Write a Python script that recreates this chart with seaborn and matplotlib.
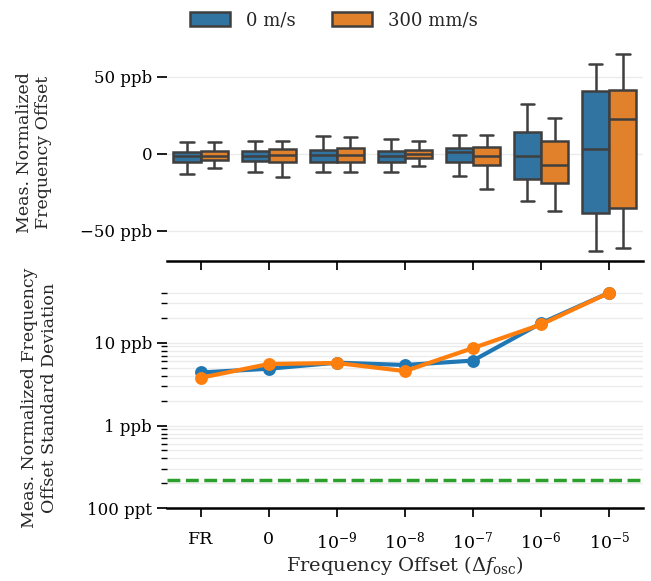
import pandas as pd
import matplotlib
matplotlib.use("Agg")
import matplotlib.pyplot as plt
import matplotlib.ticker as mticker
import seaborn as sns


# -----------------------------
# DATA
# -----------------------------
offsets = ["FR", "0", "1e-9", "1e-8", "1e-7", "1e-6", "1e-5"]
offset_labels = ["FR", "0", r"$10^{-9}$", r"$10^{-8}$", r"$10^{-7}$",
                 r"$10^{-6}$", r"$10^{-5}$"]
speeds = ["0 m/s", "300 mm/s"]

# five-number summaries per box, in ppb: min, q1, median, q3, max
box_0ms = [
    [-13.2, -4.9, -1.2, 1.6, 7.5],
    [-11.7, -4.5, -1.6, 1.8, 8.2],
    [-11.7, -5.0, -0.7, 2.8, 11.8],
    [-11.7, -5.0, -1.1, 2.1, 9.9],
    [-14.0, -4.9, 1.1, 3.9, 12.1],
    [-30.7, -16.2, -1.5, 14.4, 32.6],
    [-63.0, -38.0, 3.2, 41.2, 58.4],
]
box_300mms = [
    [-8.8, -4.2, -1.0, 2.0, 7.6],
    [-15.1, -5.3, -0.9, 3.0, 8.6],
    [-11.9, -5.4, -0.7, 3.9, 11.0],
    [-7.6, -2.8, 0.0, 2.3, 8.4],
    [-22.7, -7.1, -1.1, 4.3, 12.1],
    [-37.1, -18.6, -6.9, 8.2, 23.3],
    [-60.8, -35.0, 22.8, 41.6, 64.9],
]

# standard deviation, in ppb
std_0ms = [4.37, 4.85, 5.74, 5.38, 6.08, 17.2, 40.1]
std_300mms = [3.77, 5.53, 5.69, 4.54, 8.61, 16.6, 40.1]
noise_floor = 0.218  # ppb

rows = []
for speed, boxes in zip(speeds, [box_0ms, box_300mms]):
    for off, vals in zip(offsets, boxes):
        for v in vals:
            rows.append({"offset": off, "speed": speed, "value": v})
box_df = pd.DataFrame(rows)

std_df = pd.DataFrame({
    "offset": offsets * 2,
    "speed": [speeds[0]] * len(offsets) + [speeds[1]] * len(offsets),
    "std": std_0ms + std_300mms,
})


# -----------------------------
# STYLE
# -----------------------------
sns.set_theme(style="whitegrid", context="notebook")
plt.rcParams["font.family"] = "serif"
plt.rcParams["font.serif"] = ["DejaVu Serif"]
plt.rcParams["mathtext.fontset"] = "dejavuserif"
plt.rcParams.update({
    "axes.labelsize": 12.5,
    "xtick.labelsize": 12.5,
    "ytick.labelsize": 12,
    "legend.fontsize": 13,
    "xtick.bottom": True,
    "ytick.left": True,
    "xtick.color": "black",
    "ytick.color": "black",
    "xtick.major.size": 6.5,
    "ytick.major.size": 7,
    "xtick.major.pad": 9.5,
    "grid.color": "#ebebeb",
    "grid.linewidth": 1.0,
})

fig = plt.figure(figsize=(6.51, 5.81), dpi=100)
ax1 = fig.add_axes([0.256, 0.551, 0.732, 0.373])
ax2 = fig.add_axes([0.256, 0.125, 0.732, 0.381])


# -----------------------------
# TOP: BOXPLOTS
# -----------------------------
sns.boxplot(
    data=box_df,
    x="offset",
    y="value",
    hue="speed",
    order=offsets,
    hue_order=speeds,
    palette=["#1f77b4", "#ff7f0e"],
    whis=(0, 100),
    linewidth=1.8,
    ax=ax1,
)
ax1.set_xlim(-0.5, 6.5)
ax1.set_ylim(-69.4, 71.3)
ax1.yaxis.set_major_locator(mticker.FixedLocator([-50, 0, 50]))
ax1.set_yticklabels(["\u221250 ppb", "0", "50 ppb"])
ax1.tick_params(labelbottom=False)
ax1.set_xlabel("")
ax1.set_ylabel("Meas. Normalized\nFrequency Offset", labelpad=20)
ax1.grid(axis="x", visible=False)

sns.move_legend(
    ax1, "center",
    bbox_to_anchor=(0.351, 1.11),
    ncol=2,
    frameon=False,
    title=None,
    handlelength=2.2,
    handleheight=0.85,
    handletextpad=0.9,
    columnspacing=2.0,
)


# -----------------------------
# BOTTOM: STANDARD DEVIATION
# -----------------------------
sns.pointplot(
    data=std_df,
    x="offset",
    y="std",
    hue="speed",
    order=offsets,
    hue_order=speeds,
    palette=["#1f77b4", "#ff7f0e"],
    markers="o",
    errorbar=None,
    linewidth=3,
    markersize=7,
    legend=False,
    ax=ax2,
)
ax2.axhline(noise_floor, color="#2ca02c", linestyle="--", linewidth=2.5)

ax2.set_yscale("log")
ax2.set_ylim(0.1, 47)
ax2.set_xlim(-0.5, 6.5)
ax2.yaxis.set_major_locator(mticker.FixedLocator([0.1, 1, 10]))
ax2.yaxis.set_major_formatter(mticker.FixedFormatter(["100 ppt", "1 ppb", "10 ppb"]))
ax2.yaxis.set_minor_locator(mticker.LogLocator(base=10, subs=range(2, 10)))
ax2.yaxis.set_minor_formatter(mticker.NullFormatter())
ax2.yaxis.grid(True, which="both")
ax2.grid(axis="x", visible=False)
ax2.set_xticks(range(len(offsets)))
ax2.set_xticklabels(offset_labels)
ax2.set_xlabel(r"Frequency Offset ($\Delta f_{\mathrm{osc}}$)", fontsize=14, labelpad=1)
ax2.set_ylabel("Meas. Normalized Frequency\nOffset Standard Deviation", labelpad=21)

for ax in [ax1, ax2]:
    for side in ["left", "top", "right"]:
        ax.spines[side].set_visible(False)
    ax.spines["bottom"].set_color("black")
    ax.spines["bottom"].set_linewidth(1.8)

plt.savefig("out.png", dpi=100)
